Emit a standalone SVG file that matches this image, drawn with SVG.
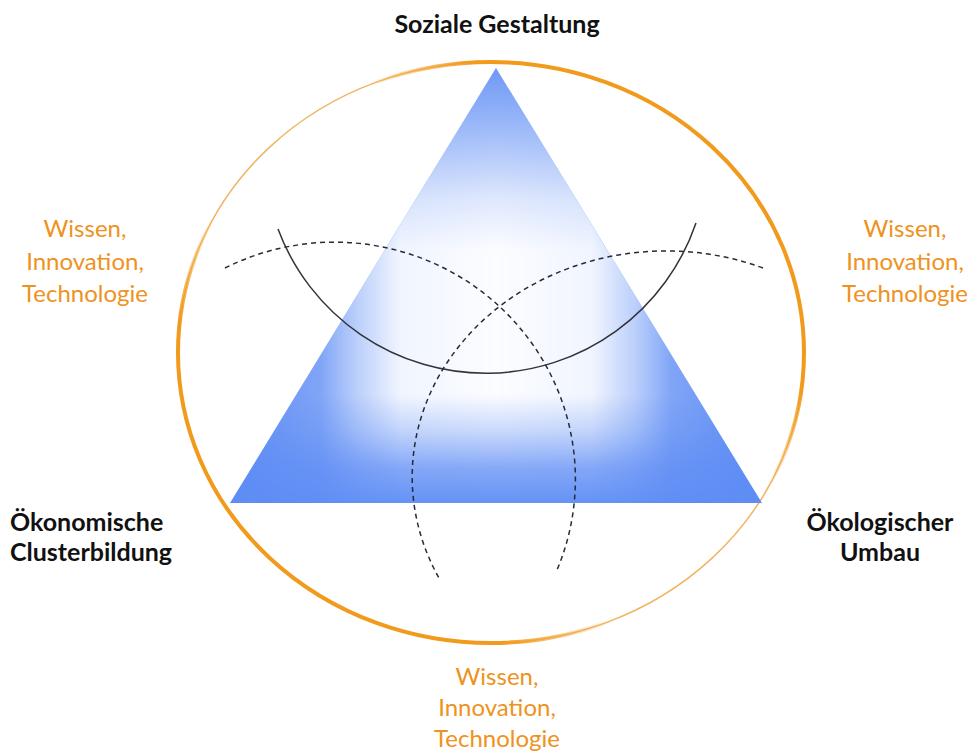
<svg xmlns="http://www.w3.org/2000/svg" width="970" height="751" viewBox="0 0 970 751">
  <defs>
    <style>
      .pillar { font-family: Lato, "Liberation Sans", sans-serif; font-weight: 700; font-size: 25px; fill: #111111; }
      .driver { font-family: Lato, "Liberation Sans", sans-serif; font-weight: 400; font-size: 24px; fill: #EE9220; }
      .arc-dash { fill: none; stroke: #262b38; stroke-width: 1.5; stroke-dasharray: 5 4; }
      .arc-solid { fill: none; stroke: #333338; stroke-width: 1.5; }
    </style>
    <clipPath id="triClip">
      <polygon points="496,68 230,503 762,503"/>
    </clipPath>
    <!-- bright centre of the triangle: horizontal falloff in the fill, vertical falloff in the mask -->
    <linearGradient id="glowH" gradientUnits="userSpaceOnUse" x1="230" y1="0" x2="762" y2="0">
      <stop offset="0" stop-color="#fff" stop-opacity="0"/>
      <stop offset="0.17" stop-color="#fff" stop-opacity="0.22"/>
      <stop offset="0.24" stop-color="#fff" stop-opacity="0.6"/>
      <stop offset="0.32" stop-color="#fff" stop-opacity="0.93"/>
      <stop offset="0.5" stop-color="#fff" stop-opacity="1"/>
      <stop offset="0.68" stop-color="#fff" stop-opacity="0.93"/>
      <stop offset="0.76" stop-color="#fff" stop-opacity="0.6"/>
      <stop offset="0.83" stop-color="#fff" stop-opacity="0.22"/>
      <stop offset="1" stop-color="#fff" stop-opacity="0"/>
    </linearGradient>
    <linearGradient id="glowV" gradientUnits="userSpaceOnUse" x1="0" y1="68" x2="0" y2="503">
      <stop offset="0" stop-color="#1a1a1a"/>
      <stop offset="0.14" stop-color="#666"/>
      <stop offset="0.3" stop-color="#cccccc"/>
      <stop offset="0.42" stop-color="#fafafa"/>
      <stop offset="0.75" stop-color="#fafafa"/>
      <stop offset="0.83" stop-color="#b0b0b0"/>
      <stop offset="0.92" stop-color="#404040"/>
      <stop offset="1" stop-color="#0d0d0d"/>
    </linearGradient>
    <mask id="glowMask" maskUnits="userSpaceOnUse" x="0" y="0" width="970" height="751">
      <rect x="0" y="0" width="970" height="751" fill="url(#glowV)"/>
    </mask>
    <!-- ring is heavy at the ends of the lower-left / upper-right axis, fine elsewhere -->
    <linearGradient id="ringFade" gradientUnits="userSpaceOnUse" x1="278" y1="565" x2="704" y2="139">
      <stop offset="0" stop-color="#fff"/>
      <stop offset="0.17" stop-color="#fff"/>
      <stop offset="0.33" stop-color="#000"/>
      <stop offset="0.67" stop-color="#000"/>
      <stop offset="0.82" stop-color="#fff"/>
      <stop offset="1" stop-color="#fff"/>
    </linearGradient>
    <mask id="ringMask" maskUnits="userSpaceOnUse" x="0" y="0" width="970" height="751">
      <rect x="0" y="0" width="970" height="751" fill="url(#ringFade)"/>
    </mask>
  </defs>

  <rect width="970" height="751" fill="#ffffff"/>

  <!-- outer ring -->
  <g id="ring">
    <ellipse cx="491" cy="352.5" rx="313" ry="290.5" fill="none" stroke="#F0B564" stroke-width="1.5"/>
    <ellipse cx="491" cy="352.5" rx="313" ry="290.5" fill="none" stroke="#F29A1C" stroke-width="4" mask="url(#ringMask)"/>
  </g>

  <!-- triangle with soft bright centre -->
  <g id="triangle">
    <polygon points="496,68 230,503 762,503" fill="#5E8DF5"/>
    <g clip-path="url(#triClip)">
      <rect x="230" y="68" width="532" height="435" fill="url(#glowH)" mask="url(#glowMask)"/>
    </g>
  </g>

  <!-- overlapping arcs -->
  <g id="connectors">
    <path class="arc-dash" d="M225,268 A241,237 0 0 1 557,570"/>
    <path class="arc-dash" d="M763,268 A254,226 0 0 0 439,578"/>
    <path class="arc-solid" d="M278,229 A222,222 0 0 0 696,223"/>
  </g>

  <g id="label-social">
    <text class="pillar" x="497" y="33" text-anchor="middle">Soziale Gestaltung</text>
  </g>
  <g id="label-economic">
    <text class="pillar" x="10" y="531">Ökonomische</text>
    <text class="pillar" x="10" y="561">Clusterbildung</text>
  </g>
  <g id="label-ecological">
    <text class="pillar" x="880" y="531" text-anchor="middle">Ökologischer</text>
    <text class="pillar" x="880" y="561" text-anchor="middle">Umbau</text>
  </g>

  <g id="driver-left">
    <text class="driver" x="85" y="237" text-anchor="middle">Wissen,</text>
    <text class="driver" x="85" y="270" text-anchor="middle">Innovation,</text>
    <text class="driver" x="85" y="302" text-anchor="middle">Technologie</text>
  </g>
  <g id="driver-right">
    <text class="driver" x="905" y="237" text-anchor="middle">Wissen,</text>
    <text class="driver" x="905" y="270" text-anchor="middle">Innovation,</text>
    <text class="driver" x="905" y="302" text-anchor="middle">Technologie</text>
  </g>
  <g id="driver-bottom">
    <text class="driver" x="497" y="685" text-anchor="middle">Wissen,</text>
    <text class="driver" x="497" y="716" text-anchor="middle">Innovation,</text>
    <text class="driver" x="497" y="747" text-anchor="middle">Technologie</text>
  </g>
</svg>
